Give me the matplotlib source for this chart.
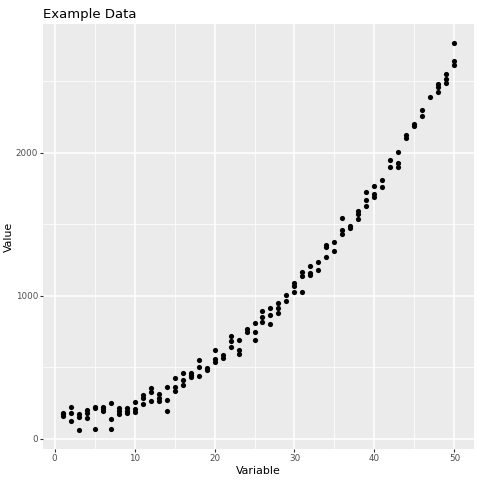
import numpy as np
import matplotlib
matplotlib.use("Agg")
import matplotlib.pyplot as plt

# values (x, y pairs; repeated x = several draws)
variable = [
    1, 1, 1, 2, 2, 2, 3, 3, 3, 4, 4, 4, 5, 5, 5, 6, 6, 6, 7, 7, 7,
    8, 8, 8, 9, 9, 9, 10, 10, 10, 11, 11, 11, 12, 12, 12, 13, 13, 13,
    14, 14, 14, 15, 15, 15, 16, 16, 16, 17, 17, 17, 18, 18, 18, 19, 19,
    20, 20, 20, 21, 21, 22, 22, 22, 23, 23, 23, 24, 24, 25, 25, 25,
    26, 26, 26, 27, 27, 27, 28, 28, 28, 29, 29, 30, 30, 30, 31, 31, 31,
    32, 32, 32, 33, 33, 34, 34, 34, 35, 35, 36, 36, 36, 37, 37,
    38, 38, 38, 39, 39, 39, 40, 40, 40, 41, 41, 42, 42, 43, 43, 43,
    44, 44, 45, 45, 46, 46, 47, 48, 48, 48, 49, 49, 49, 50, 50, 50,
]
value = [
    180, 170, 161, 219, 182, 126, 170, 154, 63, 200, 177, 145, 224, 212, 70,
    219, 207, 196, 249, 135, 70, 214, 196, 172, 214, 196, 182, 256, 210, 184,
    305, 284, 243, 354, 327, 261, 312, 284, 261, 359, 268, 196, 427, 361, 331,
    457, 413, 378, 458, 445, 431, 548, 499, 436, 492, 478, 618, 557, 534,
    585, 562, 718, 685, 645, 690, 622, 590, 767, 750, 811, 748, 694,
    893, 851, 818, 914, 869, 804, 953, 914, 879, 1007, 963, 1091, 1070, 1028,
    1166, 1142, 1028, 1210, 1159, 1147, 1240, 1182, 1355, 1341, 1271,
    1376, 1317, 1545, 1462, 1431, 1485, 1471, 1594, 1571, 1536,
    1727, 1671, 1631, 1771, 1711, 1690, 1809, 1762, 1953, 1904,
    2005, 1932, 1902, 2128, 2107, 2205, 2189, 2298, 2257, 2392,
    2483, 2459, 2427, 2555, 2520, 2492, 2767, 2643, 2617,
]

x_ticks = [0, 10, 20, 30, 40, 50]
y_ticks = [0, 1000, 2000]

fig = plt.figure(figsize=(4.8, 4.8), dpi=100)
ax = fig.add_axes([43 / 480, 31 / 480, 431 / 480, 425 / 480])
ax.set_facecolor("#EBEBEB")

# ggplot-style 5% expansion
x = np.array(variable, float)
y = np.array(value, float)
dx = (x.max() - x.min()) * 0.05
dy = (y.max() - y.min()) * 0.05
ax.set_xlim(x.min() - dx, x.max() + dx)
ax.set_ylim(y.min() - dy, y.max() + dy)

ax.set_xticks(x_ticks)
ax.set_yticks(y_ticks)
ax.set_xticks([5, 15, 25, 35, 45], minor=True)
ax.set_yticks([500, 1500, 2500], minor=True)
ax.grid(which="major", color="white", lw=1.1)
ax.grid(which="minor", color="white", lw=0.55)
ax.set_axisbelow(True)
for s in ax.spines.values():
    s.set_visible(False)
ax.tick_params(which="major", length=2.0, width=0.8, color="#333333",
               labelsize=6.3, labelcolor="#4D4D4D", pad=1.5)
ax.tick_params(which="minor", length=0)

ax.scatter(x, y, s=14, c="black", linewidths=0, zorder=3)

ax.set_xlabel("Variable", fontsize=7.9, labelpad=2)
ax.set_ylabel("Value", fontsize=7.9, labelpad=1)
ax.set_title("Example Data", fontsize=9.5, loc="left", pad=4)

fig.savefig("out.png", dpi=100)
